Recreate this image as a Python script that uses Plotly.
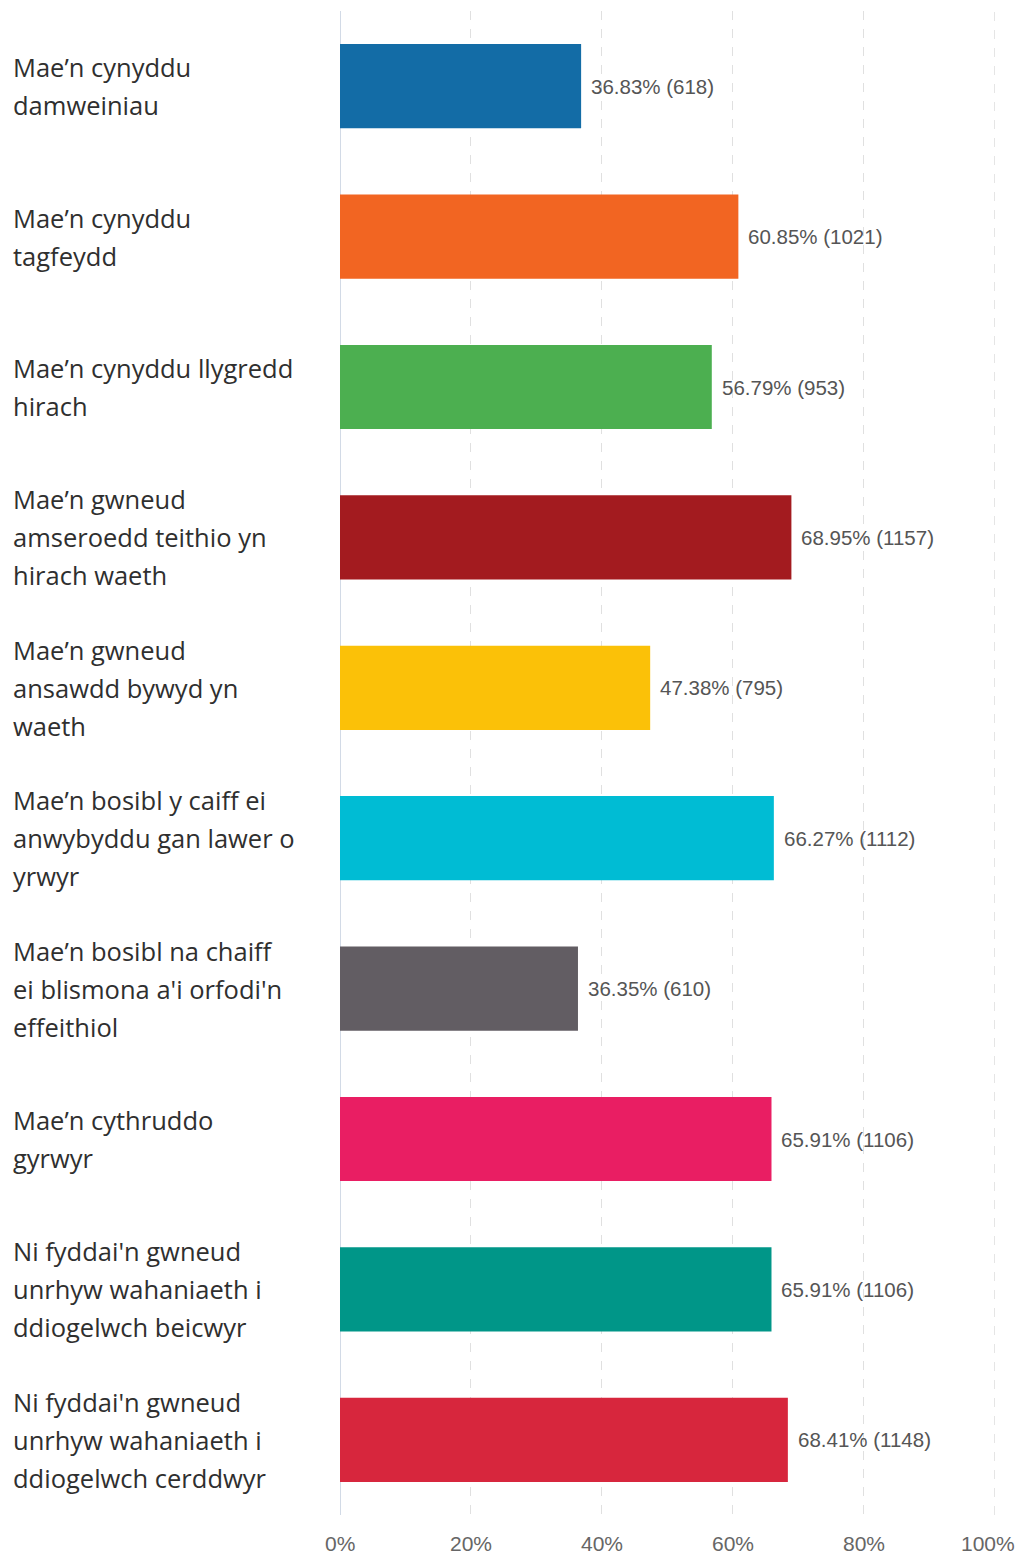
import plotly.graph_objects as go

categories = [
    "Mae\u2019n cynyddu<br>damweiniau",
    "Mae\u2019n cynyddu<br>tagfeydd",
    "Mae\u2019n cynyddu llygredd<br>hirach",
    "Mae\u2019n gwneud<br>amseroedd teithio yn<br>hirach waeth",
    "Mae\u2019n gwneud<br>ansawdd bywyd yn<br>waeth",
    "Mae\u2019n bosibl y caiff ei<br>anwybyddu gan lawer o<br>yrwyr",
    "Mae\u2019n bosibl na chaiff<br>ei blismona a'i orfodi'n<br>effeithiol",
    "Mae\u2019n cythruddo<br>gyrwyr",
    "Ni fyddai'n gwneud<br>unrhyw wahaniaeth i<br>ddiogelwch beicwyr",
    "Ni fyddai'n gwneud<br>unrhyw wahaniaeth i<br>ddiogelwch cerddwyr",
]
percent = [36.83, 60.85, 56.79, 68.95, 47.38, 66.27, 36.35, 65.91, 65.91, 68.41]
counts = [618, 1021, 953, 1157, 795, 1112, 610, 1106, 1106, 1148]
colors = ["#136ca6", "#f26522", "#4caf50", "#a31b1f", "#fbc108",
          "#00bcd4", "#625d63", "#e91e63", "#009688", "#d7263d"]
tick_vals = [0, 20, 40, 60, 80, 100]
tick_text = ["0%", "20%", "40%", "60%", "80%", "100%"]

ids = list(range(len(categories)))
labels = [f"{p:.2f}% ({c})" for p, c in zip(percent, counts)]

fig = go.Figure()
fig.add_trace(go.Bar(
    y=ids, x=percent, orientation="h",
    marker=dict(color=colors, line=dict(width=0)),
    width=0.56,
    hoverinfo="skip",
))

# value labels
for i in ids:
    fig.add_annotation(
        x=percent[i], xref="x", y=i, yref="y", xanchor="left", xshift=8,
        text=labels[i], showarrow=False,
        font=dict(family="Liberation Sans, Arial", size=20.5, color="#555555"),
    )

# category labels (left aligned, one annotation per line for line spacing)
LINE_H = 38
for i, cat in enumerate(categories):
    lines = cat.split("<br>")
    n = len(lines)
    for j, ln in enumerate(lines):
        off = ((n - 1) / 2 - j) * LINE_H
        fig.add_annotation(
            x=0, xref="paper", xshift=-329, xanchor="left",
            y=i, yref="y", yshift=off, yanchor="middle",
            text=ln, showarrow=False,
            font=dict(family="Open Sans", size=25.5, color="#2f2f2f"),
        )

# x tick labels (last one kept inside the page edge)
for k, (tv, tt) in enumerate(zip(tick_vals, tick_text)):
    last = k == len(tick_vals) - 1
    fig.add_annotation(
        x=tv, xref="x", y=0, yref="paper", yanchor="middle", yshift=-28,
        xanchor="right" if last else "center", xshift=22 if last else 0,
        text=tt, showarrow=False,
        font=dict(family="Liberation Sans, Arial", size=21, color="#666666"),
    )

fig.update_layout(
    width=1017, height=1547,
    margin=dict(l=332, r=30, t=3, b=40, autoexpand=False),
    paper_bgcolor="white", plot_bgcolor="white",
    showlegend=False,
    bargap=0.44,
)
fig.update_xaxes(
    range=[0, 100.05], tickvals=tick_vals, showticklabels=False,
    showgrid=True, gridcolor="#e0e0e0", griddash="dash", gridwidth=1,
    zeroline=False, showline=False, automargin=False, ticks="",
)
fig.update_yaxes(
    range=[len(categories) - 0.5, -0.5], showticklabels=False,
    showgrid=False, zeroline=False, showline=False, automargin=False,
)
# zero line and the 100% grid line at the plot edge
fig.add_shape(type="line", xref="x", yref="paper", x0=0, x1=0, y0=0, y1=1,
              line=dict(color="#c3cede", width=1.5), layer="below")
fig.add_shape(type="line", xref="x", yref="paper", x0=tick_vals[-1], x1=tick_vals[-1],
              y0=0, y1=1, line=dict(color="#e0e0e0", width=1, dash="dash"),
              layer="below")

fig.write_html("out.html")
